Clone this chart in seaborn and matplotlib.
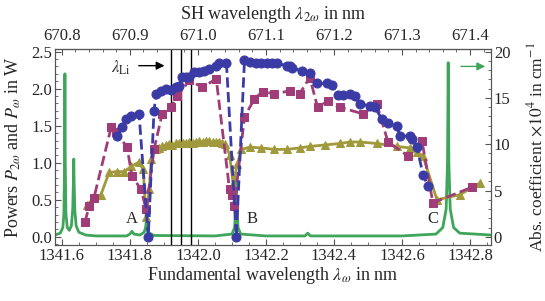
# 1. Importing libraries

import numpy as np
import pandas as pd
import seaborn as sns
import matplotlib
matplotlib.use('Agg')
import matplotlib.pyplot as plt
from matplotlib.ticker import MultipleLocator, FormatStrFormatter

# 2. Data

# blue circles (dashed)
blue_x = [1341.762, 1341.777, 1341.789, 1341.804, 1341.827, 1341.854, 1341.871, 1341.877,
          1341.892, 1341.907, 1341.922, 1341.936, 1341.945, 1341.954, 1341.966, 1341.975,
          1341.989, 1342.004, 1342.019, 1342.034, 1342.054, 1342.063, 1342.084, 1342.113,
          1342.137, 1342.152, 1342.172, 1342.187, 1342.202, 1342.217, 1342.234, 1342.261,
          1342.270, 1342.278, 1342.305, 1342.329, 1342.349, 1342.379, 1342.394, 1342.411,
          1342.426, 1342.447, 1342.461, 1342.476, 1342.506, 1342.520, 1342.541, 1342.559,
          1342.585, 1342.594, 1342.624, 1342.630, 1342.644, 1342.662, 1342.677]
blue_y = [1.36, 1.48, 1.59, 1.63, 1.66, 0.00, 1.70, 1.93,
          1.97, 2.00, 1.98, 2.02, 2.04, 2.16, 2.16, 2.16,
          2.23, 2.23, 2.24, 2.27, 2.31, 2.34, 2.34, 0.00,
          2.38, 2.36, 2.35, 2.35, 2.34, 2.34, 2.34, 2.31,
          2.30, 2.28, 2.24, 2.21, 2.07, 2.07, 2.05, 1.92,
          1.92, 1.93, 1.90, 1.79, 1.77, 1.75, 1.59, 1.54,
          1.49, 1.36, 1.36, 1.32, 1.21, 0.84, 0.68]

# purple squares (dashed)
purple_x = [1341.668, 1341.680, 1341.694, 1341.745, 1341.759, 1341.792, 1341.806, 1341.833,
            1341.848, 1341.871, 1341.895, 1341.922, 1341.939, 1341.975, 1342.013, 1342.054,
            1342.093, 1342.099, 1342.107, 1342.137, 1342.166, 1342.190, 1342.225, 1342.270,
            1342.299, 1342.329, 1342.352, 1342.382, 1342.417, 1342.485, 1342.526, 1342.559,
            1342.618, 1342.659, 1342.691, 1342.806]
purple_y = [0.20, 0.41, 0.52, 1.48, 1.41, 1.21, 0.82, 0.64,
            0.37, 1.18, 1.66, 1.75, 1.90, 2.11, 2.02, 2.13,
            0.64, 0.57, 0.41, 1.62, 1.86, 1.96, 1.93, 1.97,
            1.93, 2.15, 1.75, 1.83, 1.75, 1.66, 1.79, 1.28,
            1.09, 1.29, 0.46, 0.67]

# olive triangles (solid)
olive_x = [1341.674, 1341.694, 1341.715, 1341.739, 1341.762, 1341.783, 1341.804, 1341.827,
           1341.839, 1341.848, 1341.857, 1341.863, 1341.877, 1341.885, 1341.895, 1341.905,
           1341.916, 1341.925, 1341.935, 1341.945, 1341.955, 1341.965, 1341.975, 1341.985,
           1341.995, 1342.004, 1342.014, 1342.024, 1342.034, 1342.044, 1342.054, 1342.063,
           1342.072, 1342.081, 1342.093, 1342.104, 1342.116, 1342.128, 1342.152, 1342.187,
           1342.225, 1342.261, 1342.299, 1342.329, 1342.373, 1342.417, 1342.447, 1342.476,
           1342.526, 1342.585, 1342.624, 1342.644, 1342.662, 1342.703, 1342.771, 1342.830]
olive_y = [0.43, 0.52, 0.57, 0.87, 0.88, 0.88, 0.95, 1.01,
           0.91, 0.27, 0.64, 1.05, 1.18, 1.20, 1.22, 1.24,
           1.25, 1.24, 1.26, 1.26, 1.27, 1.26, 1.28, 1.27,
           1.28, 1.29, 1.28, 1.29, 1.29, 1.28, 1.28, 1.28,
           1.27, 1.25, 1.11, 0.71, 0.98, 1.18, 1.21, 1.20,
           1.18, 1.18, 1.20, 1.22, 1.24, 1.26, 1.28, 1.28,
           1.26, 1.22, 1.20, 1.15, 1.09, 0.50, 0.57, 0.73]

# green absorption spectrum (right axis, x10^4 cm^-1)
abs_x = [1341.580, 1341.595, 1341.603, 1341.606, 1341.608, 1341.609, 1341.610, 1341.612,
         1341.616, 1341.622, 1341.628, 1341.632, 1341.634, 1341.635, 1341.636, 1341.638,
         1341.642, 1341.650, 1341.670, 1341.700, 1341.790, 1341.800, 1341.806, 1341.812,
         1341.830, 1341.842, 1341.846, 1341.848, 1341.850, 1341.854, 1341.870, 1342.050,
         1342.100, 1342.108, 1342.111, 1342.113, 1342.115, 1342.118, 1342.126, 1342.200,
         1342.315, 1342.323, 1342.331, 1342.600, 1342.700, 1342.720, 1342.730, 1342.734,
         1342.736, 1342.738, 1342.742, 1342.752, 1342.770, 1342.860]
abs_y = [0.2, 0.4, 1.0, 2.5, 8.0, 17.6, 8.0, 2.5,
         1.0, 0.7, 1.2, 3.0, 6.0, 8.4, 6.0, 3.0,
         1.2, 0.5, 0.2, 0.1, 0.1, 0.3, 0.6, 0.3,
         0.2, 0.5, 1.0, 1.5, 1.0, 0.5, 0.15, 0.1,
         0.3, 1.0, 3.0, 6.4, 3.0, 1.0, 0.3, 0.1,
         0.1, 0.4, 0.1, 0.1, 0.3, 1.0, 3.0, 8.0,
         18.8, 8.0, 3.0, 1.0, 0.4, 0.2]

li_lines = [1341.922, 1341.950, 1341.979]

blue_df = pd.DataFrame({'wl': blue_x, 'P': blue_y})
purple_df = pd.DataFrame({'wl': purple_x, 'P': purple_y})
olive_df = pd.DataFrame({'wl': olive_x, 'P': olive_y})
abs_df = pd.DataFrame({'wl': abs_x, 'alpha': abs_y})

# 3. Plot

sns.set_style('ticks')
plt.rcParams['font.family'] = ['Liberation Serif', 'DejaVu Serif']
plt.rcParams['mathtext.fontset'] = 'stix'
plt.rcParams['font.size'] = 12

c_blue = '#3b3ba6'
c_purple = '#a03d78'
c_olive = '#a19a3c'
c_green = '#3fa55a'
c_frame = '#555555'

fig = plt.figure(figsize=(5.45, 3.01), dpi=100)
ax = fig.add_axes([0.101, 0.186, 0.800, 0.650])
ax2 = ax.twinx()

sns.lineplot(data=abs_df, x='wl', y='alpha', ax=ax2, color=c_green, lw=2, sort=False,
             estimator=None)

for xv in li_lines:
    ax.axvline(xv, color='black', lw=1)

sns.lineplot(data=olive_df, x='wl', y='P', ax=ax, color=c_olive, lw=2, marker='^', ms=5.5,
             mec=c_olive, sort=False, estimator=None)
sns.lineplot(data=purple_df, x='wl', y='P', ax=ax, color=c_purple, lw=2, marker='s', ms=5.5,
             mec=c_purple, linestyle='--', sort=False, estimator=None)
sns.lineplot(data=blue_df, x='wl', y='P', ax=ax, color=c_blue, lw=2, marker='o', ms=6.5,
             mec=c_blue, linestyle='--', sort=False, estimator=None)

ax.set_zorder(ax2.get_zorder() + 1)
ax.patch.set_visible(False)

ax.set_xlim(1341.58, 1342.862)
ax.set_ylim(-0.11, 2.53)
ax2.set_ylim(-0.88, 20.24)

ax.set_xlabel(r'Fundamental wavelength $\lambda_\omega$ in nm', fontsize=13, labelpad=1)
ax.set_ylabel(r'Powers $P_{2\omega}$ and $P_\omega$ in W', fontsize=13)
ax2.set_ylabel(r'Abs. coefficient $\times 10^4$ in cm$^{-1}$', fontsize=12.5)
ax.yaxis.set_label_coords(-0.074, 0.5)
ax2.yaxis.set_label_coords(1.081, 0.5)

ax.xaxis.set_major_locator(MultipleLocator(0.2))
ax.xaxis.set_minor_locator(MultipleLocator(0.05))
ax.yaxis.set_major_locator(MultipleLocator(0.5))
ax.yaxis.set_minor_locator(MultipleLocator(0.1))
ax2.yaxis.set_major_locator(MultipleLocator(5))
ax2.yaxis.set_minor_locator(MultipleLocator(1))
ax.xaxis.set_major_formatter(FormatStrFormatter('%.1f'))
ax.yaxis.set_major_formatter(FormatStrFormatter('%.1f'))

top = ax.secondary_xaxis('top', functions=(lambda x: x / 2, lambda x: x * 2))
top.xaxis.set_major_locator(MultipleLocator(0.1))
top.xaxis.set_minor_locator(MultipleLocator(0.02))
top.xaxis.set_major_formatter(FormatStrFormatter('%.1f'))
top.set_xlabel(r'SH wavelength $\lambda_{2\omega}$ in nm', fontsize=13, labelpad=6)

for a in (ax, ax2, top):
    a.tick_params(which='major', direction='in', length=4, width=0.8, color=c_frame,
                  labelsize=12, pad=2)
    a.tick_params(which='minor', direction='in', length=2, width=0.6, color=c_frame)
top.tick_params(which='major', pad=4)
for s in ax.spines.values():
    s.set_color(c_frame)
for s in ax2.spines.values():
    s.set_color(c_frame)
top.spines['top'].set_color(c_frame)

# annotations
ax.annotate('', xy=(1341.910, 2.31), xytext=(1341.818, 2.31),
            arrowprops=dict(arrowstyle='-|>', color='black', lw=1))
ax.text(1341.774, 2.28, r'$\lambda_{\rm Li}$', ha='center', va='center', fontsize=12)
ax2.annotate('', xy=(1342.853, 18.4), xytext=(1342.765, 18.4),
             arrowprops=dict(arrowstyle='-|>', color=c_green, lw=1))
ax.text(1341.806, 0.24, 'A', ha='center', va='center', fontsize=12)
ax.text(1342.160, 0.24, 'B', ha='center', va='center', fontsize=12)
ax.text(1342.691, 0.24, 'C', ha='center', va='center', fontsize=12)

fig.savefig('out.png', dpi=100)
